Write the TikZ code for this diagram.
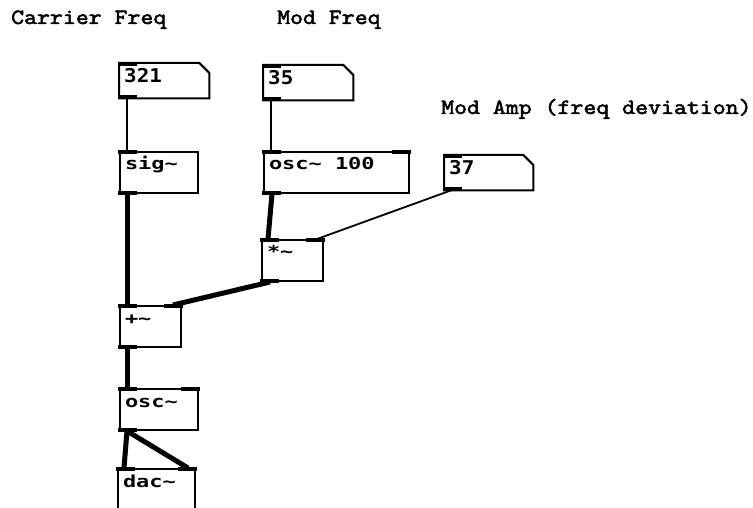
\documentclass[tikz,border=0pt]{standalone}
\usepackage{fontspec}
\newfontfamily\objfam{DejaVu Sans Mono Bold}[FakeStretch=1.33]
\newfontfamily\numfam{DejaVu Sans Mono Bold}[FakeStretch=1.1]
\newfontfamily\cmtfam{lmmono10-regular.otf}[FakeBold=2.2, FakeStretch=1.13]
\newcommand\cmtfont{\cmtfam\fontsize{21.8}{24}\selectfont}
\newcommand\objfont{\objfam\fontsize{16.5}{18}\selectfont}
\newcommand\numfont{\numfam\fontsize{19}{21}\selectfont}
\newcommand\cellsp{\makebox[13.2pt][l]{\ }}
\newcommand\pTL[1]{\fill ([shift={(-1pt,1pt)}]#1.north west) rectangle ([shift={(18pt,-3pt)}]#1.north west);}
\newcommand\pTR[1]{\fill ([shift={(1pt,1pt)}]#1.north east) rectangle ([shift={(-18pt,-3pt)}]#1.north east);}
\newcommand\pBL[1]{\fill ([shift={(-1pt,-1pt)}]#1.south west) rectangle ([shift={(18pt,3pt)}]#1.south west);}
\begin{document}
\begin{tikzpicture}[x=1pt,y=-1pt,
  comment/.style={font=\cmtfont, anchor=base west, inner sep=0pt},
  obj/.style={draw, line width=2pt, anchor=north west, inner xsep=5pt, inner ysep=0pt,
    align=left, text height=18pt, text depth=23pt, font=\objfont},
  numbox/.style={anchor=north west, inner xsep=5pt, inner ysep=0pt,
    align=left, text height=19pt, text depth=16pt, font=\numfont},
  numedge/.style={line width=2pt, line join=miter},
  thinc/.style={line width=1.8pt},
  thickc/.style={line width=5pt}]
\useasboundingbox (0,0) rectangle (753,508);
\fill[white] (0,0) rectangle (753,508);

% comments
\node[comment] (c1) at (11,24) {Carrier Freq};
\node[comment] (c2) at (277,24) {Mod Freq};
\node[comment] (c3) at (441,114) {Mod Amp (freq deviation)};

% number boxes
\node[numbox, text width=80pt] (n321) at (119,63) {321};
\node[numbox, text width=80pt] (n35) at (263,65) {35};
\node[numbox, text width=79pt] (n37) at (444,155) {37};
\foreach \n in {n321,n35,n37}{
  \draw[numedge] (\n.north west) -- ([xshift=-10pt]\n.north east) -- ([yshift=-10pt]\n.north east)
     -- (\n.south east) -- (\n.south west) -- cycle;
  \pTL{\n} \pBL{\n}
}

% objects
\node[obj, text width=68pt] (sig) at (119,151) {sig\char`\~};
\node[obj, text width=135pt] (osca) at (263,151) {osc\char`\~\cellsp 100};
\node[obj, text width=51pt] (mul) at (261,239) {*\char`\~};
\node[obj, text width=51pt] (add) at (119,305) {+\char`\~};
\node[obj, text width=68pt] (oscb) at (119,388) {osc\char`\~};
\node[obj, text width=67pt] (dac) at (117,468) {dac\char`\~};

\pTL{sig} \pBL{sig}
\pTL{osca} \pTR{osca} \pBL{osca}
\pTL{mul} \pTR{mul} \pBL{mul}
\pTL{add} \pTR{add} \pBL{add}
\pTL{oscb} \pTR{oscb} \pBL{oscb}
\pTL{dac} \pTR{dac}

% connections
\draw[thinc] ([xshift=8pt]n321.south west) -- ([xshift=8pt]sig.north west);
\draw[thinc] ([xshift=8pt]n35.south west) -- ([xshift=8pt]osca.north west);
\draw[thinc] ([xshift=7pt]n37.south west) -- ([xshift=-7pt]mul.north east);
\draw[thickc] ([xshift=8pt]sig.south west) -- ([xshift=8pt]add.north west);
\draw[thickc] ([xshift=9pt]osca.south west) -- ([xshift=7pt]mul.north west);
\draw[thickc] ([xshift=9pt]mul.south west) -- ([xshift=-9pt]add.north east);
\draw[thickc] ([xshift=8pt]add.south west) -- ([xshift=8pt]oscb.north west);
\draw[thickc] ([xshift=8pt]oscb.south west) -- ([xshift=7pt]dac.north west);
\draw[thickc] ([xshift=8pt]oscb.south west) -- ([xshift=-8pt]dac.north east);
\end{tikzpicture}
\end{document}
